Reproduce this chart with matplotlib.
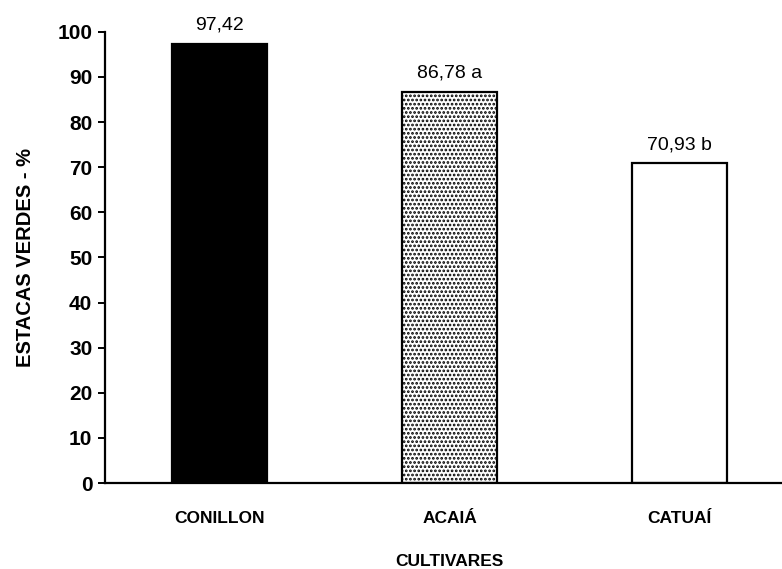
import matplotlib
matplotlib.use("Agg")
import matplotlib.pyplot as plt

cultivares = ["CONILLON", "ACAIÁ", "CATUAÍ"]
estacas = [97.42, 86.78, 70.93]
rotulos = ["97,42", "86,78 a", "70,93 b"]
yticks = [0, 10, 20, 30, 40, 50, 60, 70, 80, 90, 100]

plt.rcParams.update({
    "font.family": ["Liberation Sans", "DejaVu Sans"],
    "hatch.linewidth": 1.3,
})

fig = plt.figure(figsize=(7.82, 5.69), dpi=100)
ax = fig.add_axes([0.134, 0.151, 0.8824, 0.793])

x = range(len(cultivares))
faces = ["black", "white", "white"]
hatches = [None, "....", None]
bars = ax.bar(x, estacas, width=0.413, color=faces, edgecolor="black", linewidth=1.6)
for b, h in zip(bars, hatches):
    if h:
        b.set_hatch(h)

for i, (v, t) in enumerate(zip(estacas, rotulos)):
    ax.annotate(t, (i, v), xytext=(0, 7), textcoords="offset points",
                ha="center", va="bottom", fontsize=14)

ax.set_xlim(-0.5, 2.5)
ax.set_ylim(0, 100)
ax.set_yticks(yticks)
ax.set_yticklabels([str(t) for t in yticks], fontsize=15, fontweight="bold")
ax.set_xticks(list(x))
ax.set_xticklabels(cultivares, fontsize=12.5, fontweight="bold")
ax.tick_params(axis="x", length=0, pad=20)
ax.tick_params(axis="y", length=5, width=1.4, direction="out", pad=4)
ax.spines["top"].set_visible(False)
ax.spines["right"].set_visible(False)
ax.spines["left"].set_linewidth(1.6)
ax.spines["bottom"].set_linewidth(1.6)
ax.set_ylabel("ESTACAS VERDES - %", fontsize=14.5, fontweight="bold", labelpad=16)
ax.set_xlabel("CULTIVARES", fontsize=12.5, fontweight="bold", labelpad=20)

fig.savefig("out.png", dpi=100)
